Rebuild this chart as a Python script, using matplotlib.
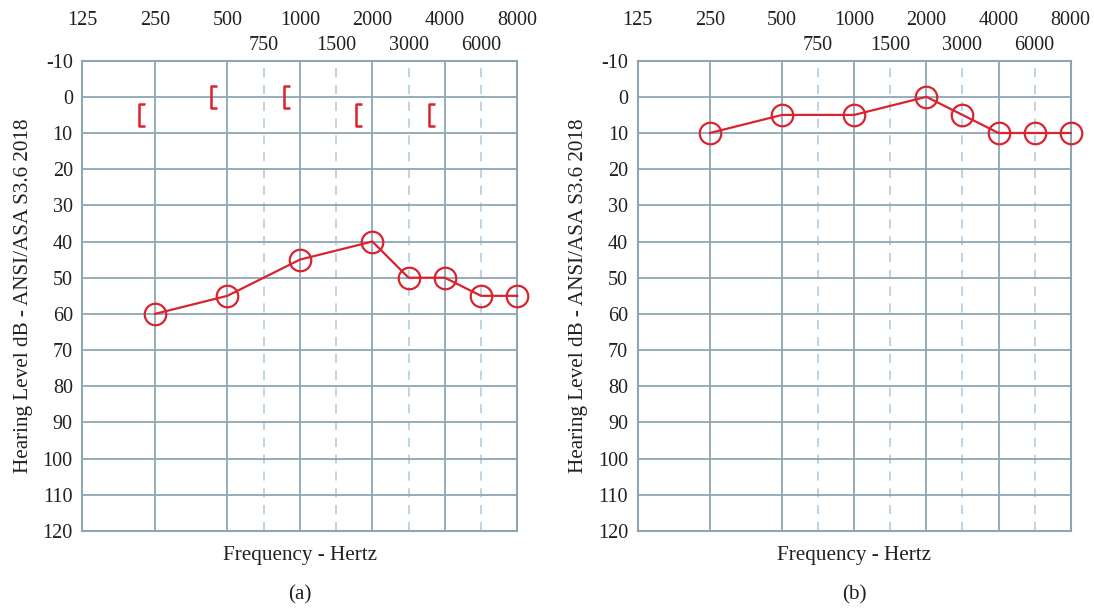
import numpy as np
import matplotlib.pyplot as plt
from matplotlib.path import Path

plt.rcParams["font.family"] = ["Liberation Serif", "DejaVu Serif"]

# frecuencias (Hz) y umbrales (dB HL)
FREQS = [250, 500, 1000, 2000, 3000, 4000, 6000, 8000]
UMBRAL_A = [60, 55, 45, 40, 50, 50, 55, 55]
UMBRAL_B = [10, 5, 5, 0, 5, 10, 10, 10]

# conduccion osea (corchete "[")
OSEA_FREQS = [250, 500, 1000, 2000, 4000]
OSEA_A = [5, 0, 0, 5, 5]

OCTAVAS = [125, 250, 500, 1000, 2000, 4000, 8000]
MEDIAS = [750, 1500, 3000, 6000]
NIVELES = list(range(-10, 121, 10))

# escala de audiograma: octavas equiespaciadas, medias octavas en el centro
ESC_F = np.log2([125, 250, 500, 750, 1000, 1500, 2000, 3000, 4000, 6000, 8000])
ESC_P = np.array([0, 1, 2, 2.5, 3, 3.5, 4, 4.5, 5, 5.5, 6])


def fwd(f):
    f = np.clip(np.asarray(f, dtype=float), 1e-3, None)
    return np.interp(np.log2(f), ESC_F, ESC_P, left=-1, right=7)


def inv(p):
    return 2 ** np.interp(p, ESC_P, ESC_F)


ROJO = "#d9232e"
GRID = "#8ea6b4"
GRID_DASH = "#a9c9de"
FS = 14.5
FS_LAB = 15.2
TXT = "#231f20"

CORCHETE = Path([(0.55, 1), (0, 1), (0, -1), (0.55, -1)],
                [Path.MOVETO, Path.LINETO, Path.LINETO, Path.LINETO])

fig = plt.figure(figsize=(10.94, 6.12), dpi=100)
ax_a = fig.add_axes([0.0754, 0.1324, 0.3974, 0.7685])
ax_b = fig.add_axes([0.5829, 0.1324, 0.3958, 0.7685])


def audiograma(ax, umbral, letra):
    ax.set_xscale("function", functions=(fwd, inv))
    ax.set_xlim(125, 8000)
    ax.set_ylim(120, -10)
    ax.set_xticks(OCTAVAS)
    ax.set_xticklabels([str(f) for f in OCTAVAS])
    ax.set_xticks(MEDIAS, minor=True)
    ax.set_xticklabels([str(f) for f in MEDIAS], minor=True)
    ax.set_yticks(NIVELES)
    ax.set_yticklabels([str(n) for n in NIVELES])
    ax.tick_params(axis="x", which="major", top=True, bottom=False,
                   labeltop=True, labelbottom=False, length=0, pad=22,
                   labelsize=FS, labelcolor=TXT)
    ax.tick_params(axis="x", which="minor", top=True, bottom=False,
                   labeltop=True, labelbottom=False, length=0, pad=4,
                   labelsize=FS, labelcolor=TXT)
    ax.tick_params(axis="y", length=0, pad=7, labelsize=FS, labelcolor=TXT)
    ax.grid(which="major", color=GRID, linewidth=1.3)
    ax.grid(which="minor", axis="x", color=GRID_DASH, linewidth=1.1,
            linestyle=(0, (6, 5)))
    ax.set_axisbelow(True)
    for s in ax.spines.values():
        s.set_color(GRID)
        s.set_linewidth(1.5)
    ax.plot(FREQS, umbral, "-", color=ROJO, linewidth=1.6, marker="o",
            markersize=15.5, markerfacecolor="none", markeredgewidth=1.6,
            clip_on=False, zorder=5)
    ax.set_xlabel("Frequency - Hertz", fontsize=FS_LAB, labelpad=11,
                  color=TXT)
    ax.set_ylabel("Hearing Level dB - ANSI/ASA S3.6 2018", fontsize=FS_LAB,
                  labelpad=7, color=TXT)
    ax.text(0.5, -0.136, letra, transform=ax.transAxes, ha="center",
            va="center", fontsize=FS_LAB, color=TXT)


audiograma(ax_a, UMBRAL_A, "(a)")
audiograma(ax_b, UMBRAL_B, "(b)")

osea_x = inv(fwd(OSEA_FREQS) - 0.22)
ax_a.plot(osea_x, OSEA_A, linestyle="none", marker=CORCHETE, markersize=16,
          markerfacecolor="none", markeredgecolor=ROJO, markeredgewidth=1.8,
          zorder=5)

plt.savefig("out.png", dpi=100)
